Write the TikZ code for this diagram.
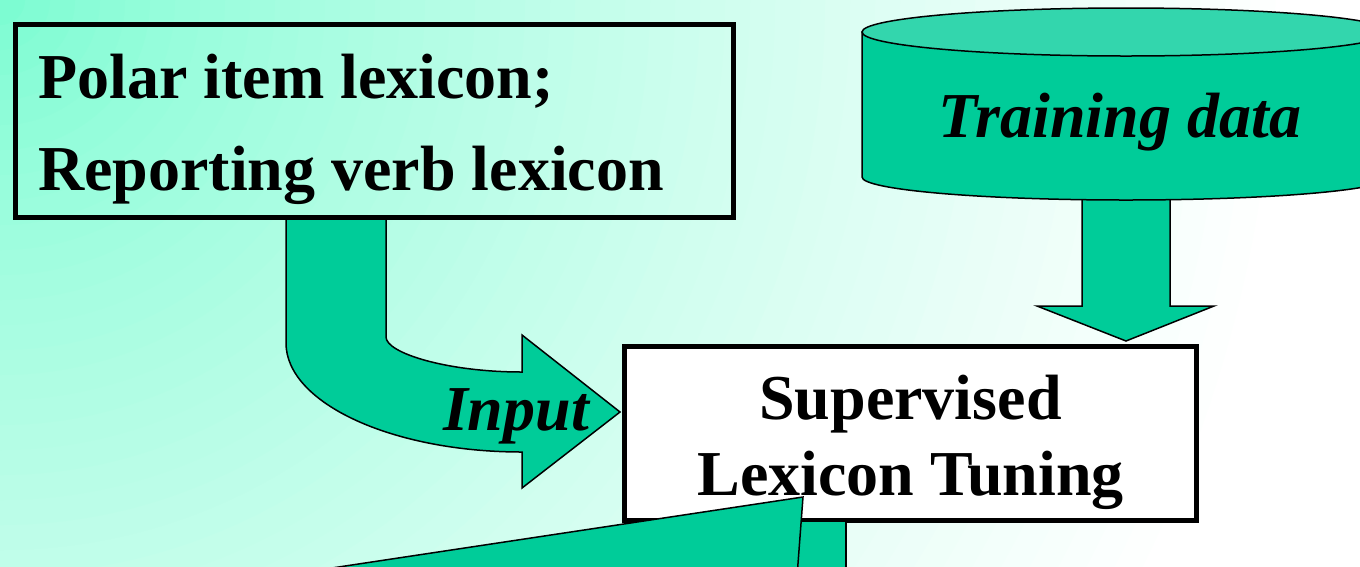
\documentclass[tikz,border=0pt]{standalone}
\usepackage{fontspec}
\setmainfont{Liberation Serif}
\definecolor{arrowgreen}{RGB}{0,204,153}
\definecolor{lidgreen}{RGB}{51,214,173}
\definecolor{bgbase}{RGB}{118,252,208}
\begin{document}
\begin{tikzpicture}[x=1pt,y=-1pt,
  every node/.style={inner sep=0pt},
  bigtext/.style={font=\fontsize{64}{64}\selectfont\bfseries},
  bigitalic/.style={font=\fontsize{64}{64}\selectfont\bfseries\itshape},
  frame/.style={draw=black, line width=5pt},
  blockarrow/.style={fill=arrowgreen, draw=black, line width=1.5pt, line join=miter}]

  \useasboundingbox (0,0) rectangle (1360,566);
  \clip (0,0) rectangle (1360,566);

  % soft background: aquamarine in the upper left fading to white
  \foreach \i in {0,...,59}{
    \pgfmathsetmacro\r{1500-25*\i}
    \pgfmathsetmacro\p{100*min(1,(\r/1300)^0.75)}
    \fill[white!\p!bgbase] (0,0) circle[radius=\r pt];
  }

  % bent arrow from the lexicon box to the tuning step
  \draw[blockarrow] (286,218) -- (286,343)
     .. controls (286,403) and (392,452) .. (522,452)
     -- (522,488) -- (620,412) -- (522,335) -- (522,372)
     .. controls (447,372) and (386,353) .. (386,337)
     -- (386,218) -- cycle;

  % lexicon box
  \node[frame, minimum width=718pt, minimum height=193pt] (lex) at (374,120.5) {};

  % arrow from the training data down to the tuning step
  \draw[blockarrow] (1082,180) -- (1082,306) -- (1037,306) -- (1126,341)
     -- (1214,306) -- (1170,306) -- (1170,180) -- cycle;

  % training data cylinder
  \coordinate (data) at (1126,104);
  \draw[fill=arrowgreen, line width=1.5pt] (862,32) -- (862,177)
     arc[start angle=180, end angle=0, x radius=264, y radius=23]
     -- (1390,32) -- cycle;
  \draw[fill=lidgreen, line width=1.5pt] (1126,32) ellipse[x radius=264, y radius=24];

  % tuning box
  \node[frame, fill=white, minimum width=572pt, minimum height=174pt] (tune) at (910.5,433.5) {};

  % outgoing arrow leaving the tuning box at the bottom
  \draw[blockarrow] (790,521) rectangle (846,590);
  \draw[blockarrow] (300,572.8) -- (803,497) -- (796,590) -- cycle;

  % texts
  \node[bigtext, anchor=base west] (lexa) at (38,98) {Polar item lexicon;};
  \node[bigtext, anchor=base west] (lexb) at (38,190) {Reporting verb lexicon};
  \node[bigitalic, anchor=base] (datatext) at (1120,137) {Training data};
  \node[bigitalic, anchor=base] (input) at (516,430) {Input};
  \node[bigtext, anchor=base] (tunea) at (910.5,419) {Supervised};
  \node[bigtext, anchor=base] (tuneb) at (910.5,495) {Lexicon Tuning};
\end{tikzpicture}
\end{document}
